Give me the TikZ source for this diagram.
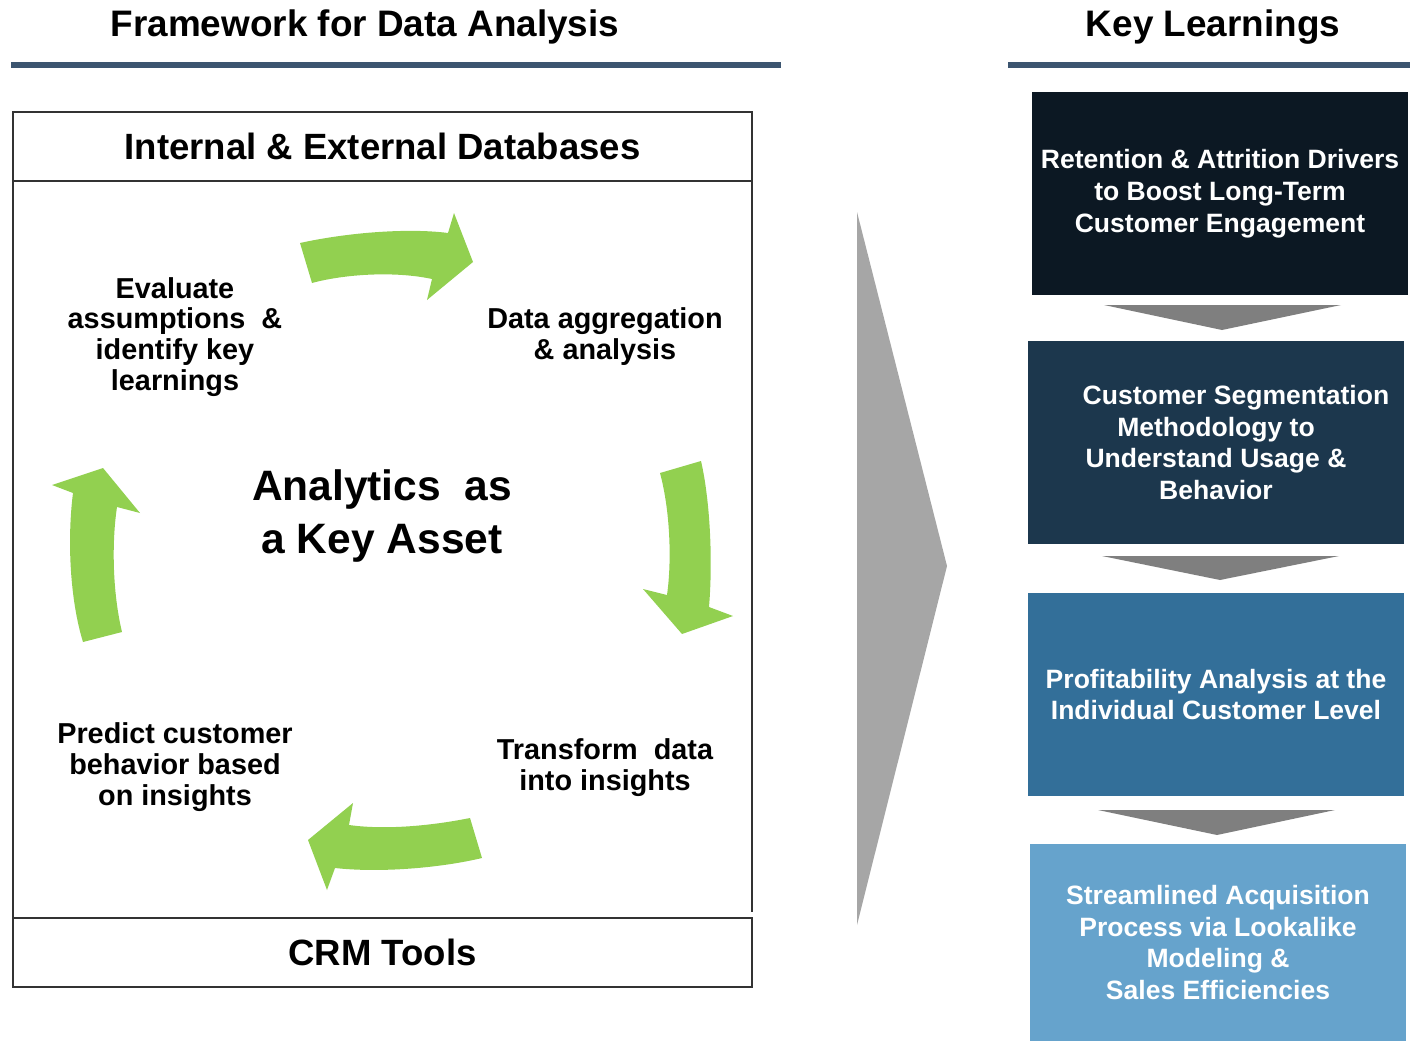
\documentclass[tikz,border=0pt]{standalone}
\usepackage{fontspec}
\setmainfont{Liberation Sans}
\usepackage{xcolor}
\usepackage{tikz}
\usetikzlibrary{positioning,calc}

\definecolor{rulecol}{HTML}{3C5570}
\definecolor{framecol}{HTML}{333333}
\definecolor{cycgreen}{HTML}{92D050}
\definecolor{bigarrow}{HTML}{A6A6A6}
\definecolor{chevgray}{HTML}{7F7F7F}
\definecolor{learnA}{HTML}{0C1823}
\definecolor{learnB}{HTML}{1C374D}
\definecolor{learnC}{HTML}{336F99}
\definecolor{learnD}{HTML}{66A3CC}

\begin{document}
\begin{tikzpicture}[x=0.02cm, y=-0.02cm,
		ttl/.style={font=\bfseries\fontsize{21}{25}\selectfont},
		hdr/.style={draw=framecol, line width=1.1pt, minimum width=14.78cm, minimum height=1.38cm, font=\bfseries\fontsize{20.8}{24}\selectfont},
		lbl/.style={align=center, font=\bfseries\fontsize{16.4}{17.6}\selectfont},
		hub/.style={align=center, font=\bfseries\fontsize{24.2}{29.6}\selectfont},
		learn/.style={minimum width=7.52cm, minimum height=4.06cm, inner sep=0pt, text=white, align=center, font=\bfseries\fontsize{15.1}{18.2}\selectfont},
		cyc/.style={fill=cycgreen},
		chev/.style={fill=chevgray}
		]
		\useasboundingbox (0,0) rectangle (1410,1041);
		
		% ==========================================
		% TITLES
		% ==========================================
		\node[ttl] (ttlL) at (365,27) {Framework for Data Analysis};
		\node[ttl] (ttlR) at (1213,27) {Key Learnings};
		\fill[rulecol] (11,62) rectangle (781,68);
		\fill[rulecol] (1008,62) rectangle (1410,68);
		
		% ==========================================
		% LEFT: FRAMEWORK
		% ==========================================
		\node[hdr] (dbs) at (382.5,146.5) {Internal \& External Databases};
		\node[hdr] (crm) at (382.5,952.5) {CRM Tools};
		\draw[framecol, line width=1.1pt] (13,181) -- (13,918);
		\draw[framecol, line width=1.1pt] (752,181) -- (752,912);
		
		% -- labels --
		\node[lbl] (eval) at (175,337) {Evaluate\\assumptions\ \ \&\\identify key\\learnings};
		\node[lbl] (aggr) at (605,337) {Data aggregation\\\& analysis};
		\node[hub] (asset) at (382,516) {Analytics\ \ as\\a Key Asset};
		\node[lbl] (pred) at (175,767) {Predict customer\\behavior based\\on insights};
		\node[lbl] (trans) at (605,768) {Transform\ \ data\\into insights};
		
		% -- green cycle arrows --
		\fill[cyc] (300,243) .. controls (350,232) and (410,228) .. (448,233) -- (454,213) -- (473,262)
			-- (427,300) -- (432,279) .. controls (395,271) and (345,274) .. (312,283) -- cycle;
		\fill[cyc] (660,473) -- (701,461) .. controls (710,500) and (713,560) .. (709,607) -- (733,616)
			-- (682,634) -- (643,589) -- (667,595) .. controls (672,560) and (670,510) .. (660,473) -- cycle;
		\fill[cyc] (482,858) -- (470,818) .. controls (430,826) and (385,830) .. (349,825) -- (353,803)
			-- (308,840) -- (327,890) -- (335,868) .. controls (380,873) and (440,868) .. (482,858) -- cycle;
		\fill[cyc] (83,642) -- (122,632) .. controls (112,590) and (112,540) .. (117,507) -- (140,513)
			-- (103,468) -- (52,485) -- (73,493) .. controls (67,540) and (70,600) .. (83,642) -- cycle;
		
		% -- big grey arrow --
		\fill[bigarrow] (857,212) -- (947,566) -- (857,925) -- cycle;
		
		% ==========================================
		% RIGHT: KEY LEARNINGS
		% ==========================================
		\node[learn, fill=learnA] (kl1) at (1220,193.5) {Retention \& Attrition Drivers\\to Boost Long-Term\\Customer Engagement};
		\node[learn, fill=learnB] (kl2) at (1216,442.5) {\hspace*{0.8cm}Customer Segmentation\\Methodology to\\Understand Usage \&\\Behavior};
		\node[learn, fill=learnC] (kl3) at (1216,694.5) {Profitability Analysis at the\\Individual Customer Level};
		\node[learn, fill=learnD, minimum height=3.94cm] (kl4) at (1218,942.5) {Streamlined Acquisition\\Process via Lookalike\\Modeling \&\\Sales Efficiencies};
		
		% -- chevrons --
		\fill[chev] (1104,305) -- (1341,305) -- (1222,330) -- cycle;
		\fill[chev] (1102,556) -- (1339,556) -- (1220,580) -- cycle;
		\fill[chev] (1098,810) -- (1335,810) -- (1217,835) -- cycle;
		
\end{tikzpicture}
\end{document}
